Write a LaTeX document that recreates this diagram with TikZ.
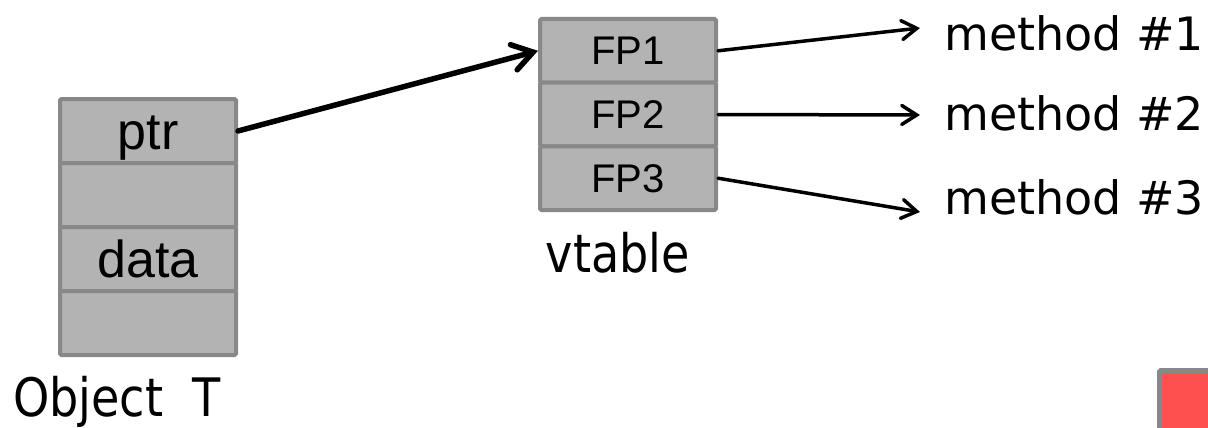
\documentclass[tikz,border=0pt]{standalone}
\usepackage{fontspec}
\setmainfont{Liberation Sans}
\newfontfamily\tahfont[FakeStretch=0.87]{DejaVu Sans}
\newfontfamily\verdfont{DejaVu Sans}
\usetikzlibrary{arrows.meta}
\definecolor{cellfill}{HTML}{B3B3B3}
\definecolor{cellline}{HTML}{888888}
\definecolor{redbox}{HTML}{FF5050}
\tikzset{
  cellbig/.style={draw=cellline, fill=cellfill, line width=4pt, rounded corners=1.5pt,
    minimum width=176pt, minimum height=64pt, inner sep=0pt,
    text height=37pt, text depth=0pt, font=\fontsize{52}{60}\selectfont},
  cellfp/.style={draw=cellline, fill=cellfill, line width=4pt, rounded corners=1.5pt,
    minimum width=176pt, minimum height=63.7pt, inner sep=0pt,
    text height=28pt, text depth=0pt, font=\fontsize{40}{46}\selectfont},
  biglabel/.style={inner sep=0pt, anchor=base west, font=\tahfont\fontsize{53}{60}\selectfont},
  methlabel/.style={inner sep=0pt, anchor=base west, font=\verdfont\fontsize{46}{54}\selectfont},
  thickarrow/.style={line width=5.5pt, line cap=round, -{Straight Barb[length=20pt,width=26pt,line cap=round]}},
  thinarrow/.style={line width=3.5pt, line cap=round, -{Straight Barb[length=15pt,width=19pt,line cap=round]}},
}
\begin{document}
\begin{tikzpicture}[x=1pt,y=-1pt]
\useasboundingbox (0,0) rectangle (1208,428);
\clip (0,0) rectangle (1208,428);
% Object T
\node[cellbig] (ptr) at (148,131) {ptr};
\node[cellbig] (c2) at (148,195) {};
\node[cellbig] (data) at (148,259) {data};
\node[cellbig] (c4) at (148,323) {};
\node[biglabel] (objT) at (13,416) {Object\ \ T};
% vtable
\node[cellfp] (fp1) at (628,50.8) {FP1};
\node[cellfp] (fp2) at (628,114.5) {FP2};
\node[cellfp] (fp3) at (628,178.2) {FP3};
\node[biglabel, anchor=base] (vt) at (618,272) {vtable};
% methods
\node[methlabel] (m1) at (944,51) {method \#1};
\node[methlabel] (m2) at (944,130) {method \#2};
\node[methlabel] (m3) at (944,214) {method \#3};
\coordinate (t1) at (920,28);
\coordinate (t2) at (920,115);
\coordinate (t3) at (920,212);
% arrows
\draw[thickarrow] (ptr.east) -- (fp1.west);
\draw[thinarrow] (fp1.east) -- (t1);
\draw[thinarrow] (fp2.east) -- (t2);
\draw[thinarrow] (fp3.east) -- (t3);
% red square
\draw[line width=5pt, draw=cellline, fill=redbox, rounded corners=1.5pt] (1159.5,370.5) rectangle (1240,460);
\end{tikzpicture}
\end{document}
